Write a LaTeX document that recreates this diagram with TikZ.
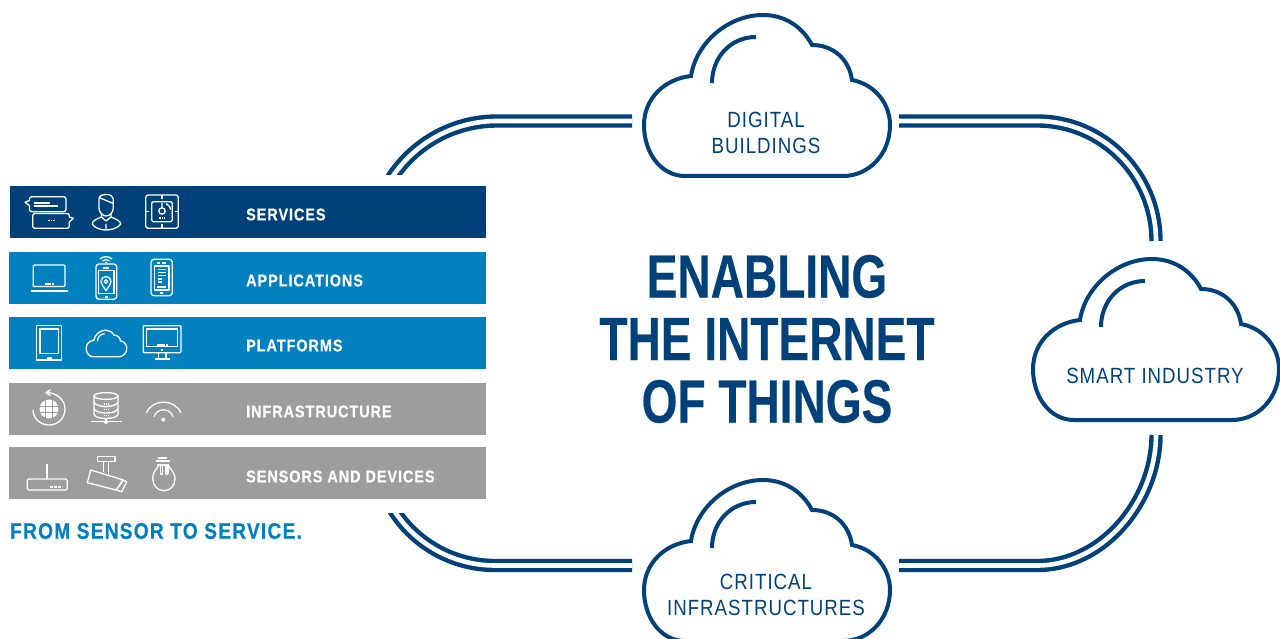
\documentclass[tikz,border=0pt]{standalone}
\usepackage{fontspec}
\setmainfont{Liberation Sans}
\newfontfamily\titlefont[FakeStretch=0.755,BoldFeatures={FakeBold=0.3}]{Liberation Sans}
\newfontfamily\cloudfont[FakeStretch=0.85,LetterSpace=4.5]{Liberation Sans}
\newfontfamily\barfont[FakeStretch=0.85,LetterSpace=5.5,BoldFeatures={FakeBold=0.4}]{Liberation Sans}
\definecolor{darkblue}{RGB}{0,65,122}
\definecolor{midblue}{RGB}{0,128,191}
\definecolor{midgray}{RGB}{157,157,156}
\tikzset{
  cloudshape/.pic={
    \draw[line join=miter] (-81,0) .. controls (-105,0) and (-122,-23) .. (-122,-51) .. controls (-122,-77) and (-102,-97) .. (-75,-100) .. controls (-70,-133) and (-38,-161) .. (-3,-161) .. controls (18,-161) and (36,-150) .. (46,-131) .. controls (67,-131) and (83,-117) .. (86,-96) .. controls (108,-92) and (124,-73) .. (124,-51) .. controls (124,-22) and (103,0) .. (77,0) -- cycle;
    \draw (-54,-93) .. controls (-54,-119) and (-35,-139) .. (-10,-139);
  },
  bigcloud/.style={draw=darkblue,line width=4pt},
  cloudlabel/.style={text=darkblue,font=\cloudfont\fontsize{22}{26}\selectfont,align=center,inner sep=0pt},
  barbox/.style={minimum height=52pt,inner sep=0pt,anchor=north west},
  barlabel/.style={text=white,font=\barfont\bfseries\fontsize{17}{18}\selectfont,anchor=west,inner sep=0pt},
  link/.style={draw=darkblue,line width=4.4pt,double=white,double distance=4.6pt},
  icon/.style={draw=white,line width=1.3pt,line join=round},
  icondash/.style={draw=white,line width=1.6pt},
  dotwhite/.style={fill=white,draw=none}
}
\begin{document}
\begin{tikzpicture}[x=1pt,y=-1pt]
\clip (0,0) rectangle (1280,639);
\fill[white] (0,0) rectangle (1280,639);

% Clouds
\pic[bigcloud] at (766,176) {cloudshape};
\pic[bigcloud] at (1155,420) {cloudshape};
\pic[bigcloud] at (766,641) {cloudshape};
\node[cloudlabel] (digital) at (766,133) {DIGITAL\\BUILDINGS};
\node[cloudlabel] (smart) at (1155,376) {SMART INDUSTRY};
\node[cloudlabel] (critical) at (766,595) {CRITICAL\\INFRASTRUCTURES};

% Free ends of the links
\coordinate (digitalwest) at (632,121);
\coordinate (digitaleast) at (899,121);
\coordinate (smartnorth) at (1156,241);
\coordinate (smartsouth) at (1156,435);
\coordinate (criticaleast) at (899,565.5);
\coordinate (criticalwest) at (632,565.5);
\coordinate (stacktop) at (388,184);
\coordinate (stackbottom) at (391,505.5);

% Links
\draw[link] (digitaleast) -- (1037,121) .. controls (1103,121) and (1156,175) .. (smartnorth);
\draw[link] (smartsouth) .. controls (1156,501) and (1103,565.5) .. (1037,565.5) -- (criticaleast);
\draw[link] (digitalwest) -- (497,121) .. controls (452,121) and (410.5,145) .. (stacktop);
\draw[link] (criticalwest) -- (495,565.5) .. controls (452,565.5) and (412.5,542.7) .. (stackbottom);
\fill[white] (370,175) rectangle (500,513);

% Title
\node[text=darkblue,font=\titlefont\bfseries\fontsize{61}{62.5}\selectfont,align=center,inner sep=0pt] (title) at (767,339) {ENABLING\\THE INTERNET\\OF THINGS};

% Bars
\node[barbox,fill=darkblue,minimum width=476pt] (servicesbar) at (10,186) {};
\node[barbox,fill=midblue,minimum width=477pt] (applicationsbar) at (9,252) {};
\node[barbox,fill=midblue,minimum width=477pt] (platformsbar) at (9,317) {};
\node[barbox,fill=midgray,minimum width=477pt] (infrastructurebar) at (9,383) {};
\node[barbox,fill=midgray,minimum width=477pt] (sensorsbar) at (9,447) {};
\node[barlabel] (serviceslabel) at (246,214.5) {SERVICES};
\node[barlabel] (applicationslabel) at (246,280.5) {APPLICATIONS};
\node[barlabel] (platformslabel) at (246,345.5) {PLATFORMS};
\node[barlabel] (infrastructurelabel) at (246,411.5) {INFRASTRUCTURE};
\node[barlabel] (sensorslabel) at (246,476.5) {SENSORS AND DEVICES};
\node[text=midblue,font=\barfont\bfseries\fontsize{22.5}{24}\selectfont,anchor=west,inner sep=0pt] (slogan) at (10,531) {FROM SENSOR TO SERVICE.};

% Chat bubbles
\draw[icon] (32,196.7) -- (63.5,196.7) .. controls (65,196.7) and (66,197.7) .. (66,199) -- (66,209.5) .. controls (66,210.7) and (65,211.7) .. (63.5,211.7) -- (32,211.7) .. controls (30.5,211.7) and (29.5,210.7) .. (29.5,209.5) -- (29.5,205.5) -- (25,202.3) -- (29.5,200.5) -- (29.5,199) .. controls (29.5,197.7) and (30.5,196.7) .. (32,196.7) -- cycle;
\draw[icon] (35,213.5) -- (67,213.5) .. controls (68.5,213.5) and (69.3,214.5) .. (69.3,215.5) -- (69.3,217) -- (73.5,218.3) -- (69.3,222) -- (69.3,226) .. controls (69.3,227.5) and (68.5,228.3) .. (67,228.3) -- (35,228.3) .. controls (33.5,228.3) and (32.7,227.5) .. (32.7,226) -- (32.7,216) .. controls (32.7,214.5) and (33.5,213.5) .. (35,213.5) -- cycle;
\draw[icondash] (34.3,203) -- (50,203) (34.3,205.8) -- (57.7,205.8);
\draw[icondash,dash pattern={on 1.6pt off 0.9pt}] (48.3,220.7) -- (54.5,220.7);
% Person
\draw[icon] (99,199) .. controls (99,196) and (102,194.5) .. (106,194.5) .. controls (110.5,194.5) and (113.3,196) .. (113.3,199) -- (113.3,208) .. controls (113.3,212) and (110,216) .. (106,216) .. controls (102.5,216) and (99,212) .. (99,208) -- cycle;
\draw[icon] (99,197.5) -- (113.3,203.5);
\draw[icon] (101.5,213) -- (101.5,217) .. controls (96,219) and (92.3,221) .. (92.3,224) .. controls (94,227.5) and (100,230) .. (106,230) .. controls (112,230) and (119,227.5) .. (120.7,224) .. controls (120.5,221) and (116,219) .. (111,217) -- (111,213);
\draw[icon] (101.5,217) -- (106,221) -- (111,217) (106,224) -- (106,229);
% Safe dial
\draw[icon,rounded corners=2.5pt] (145.7,195) rectangle (178.3,228.3);
\draw[icon,rounded corners=1.5pt] (151.7,201.7) rectangle (172.3,221.7);
\draw[icon] (162,211) circle[radius=3.2];
\draw[icon] (162,203) -- (162,207.8) (166,203.5) .. controls (168.5,204.5) and (170,207) .. (171,209.5);
\draw[icon] (162,195) -- (162,199) (162,224) -- (162,228.3) (145.7,211.7) -- (149,211.7) (175,211.7) -- (178.3,211.7);
\draw[icondash,dash pattern={on 1.6pt off 0.9pt}] (159,218) -- (165,218);

% Laptop
\draw[icon,rounded corners=1pt] (33.3,285.5) -- (33.3,265) -- (65,265) -- (65,286.5) -- (33.3,286.5) -- cycle;
\draw[icondash] (30.7,291) -- (67.7,291);
\draw[icondash,dash pattern={on 6pt off 1pt on 2pt off 9pt}] (45,284) -- (54,284);
% Phone with pin
\draw[icon,rounded corners=3pt] (96,264) rectangle (116.7,299.3);
\draw[icon] (98.7,270.7) rectangle (114,293.3);
\draw[icondash] (103,267.7) -- (109,267.7) (104.7,296.7) -- (107.7,296.7);
\draw[icon] (106,290.5) .. controls (103,286) and (101,284) .. (101,281.5) .. controls (101,278.5) and (103,276.5) .. (106,276.5) .. controls (109,276.5) and (111,278.5) .. (111,281.5) .. controls (111,284) and (109,286) .. (106,290.5) -- cycle;
\draw[icon] (106,281.5) circle[radius=1.8];
\draw[icon] (100,259) .. controls (103,256) and (109,256) .. (112,259) (102.5,261) .. controls (104.5,259) and (107.5,259) .. (109.5,261);
\fill[dotwhite] (106,262.5) circle[radius=1];
% Phone with list
\draw[icon,rounded corners=3pt] (151,259.3) rectangle (172.3,295.7);
\draw[icon] (154.3,266) rectangle (169,290);
\draw[icondash] (157,263) -- (159.5,263) (161.5,263) -- (166,263) (158,269.5) -- (166,269.5) (158,272.5) -- (166,272.5) (158,275.5) -- (166,275.5) (158,279) -- (162,279) (158,282) -- (162,282) (157,287) -- (166,287) (159.5,292.7) -- (163,292.7);

% Tablet
\draw[icon] (36.7,325.7) rectangle (61.7,360);
\draw[icon] (40,329) rectangle (58.3,353.3);
\draw[icondash] (46.7,358) -- (51.7,358);
% Small cloud
\pic[icon,scale=0.165] at (106.3,356.7) {cloudshape};
% Monitor
\draw[icon,rounded corners=1pt] (143.3,325.7) rectangle (181,352.7);
\draw[icon] (146.7,329) rectangle (177.7,346.7);
\draw[icon] (158.3,352.7) -- (158.3,359) (166,352.7) -- (166,359);
\draw[icondash] (155,359) -- (170,359) (156.7,345) -- (165,345) (166,345) -- (168.3,345) (160.7,350) -- (162.7,350);

% Globe with arrow
\fill[dotwhite] (49,409) circle[radius=9.5];
\draw[midgray,line width=0.8pt] (39.5,406) -- (58.5,406) (39.5,412) -- (58.5,412) (45.5,400) -- (45.5,418) (52.5,400) -- (52.5,418);
\draw[icon] (47,392.7) .. controls (57,392.7) and (65,400) .. (65,409) .. controls (65,418) and (58,425) .. (49,425) .. controls (40,425) and (33,418) .. (33,410);
\draw[icon] (50.5,389.7) -- (46,392.7) -- (50.5,395.7);
% Database
\draw[icon] (106,396) ellipse[x radius=12,y radius=3.4];
\draw[icon] (94,396) -- (94,414) .. controls (94,417) and (100,418.5) .. (106,418.5) .. controls (112,418.5) and (118,417) .. (118,414) -- (118,396);
\draw[icon] (94,402) .. controls (95,405) and (100,406.5) .. (106,406.5) .. controls (112,406.5) and (117,405) .. (118,402);
\draw[icon] (94,408.5) .. controls (95,411.5) and (100,413) .. (106,413) .. controls (112,413) and (117,411.5) .. (118,408.5);
\draw[icondash,dash pattern={on 1.2pt off 0.9pt}] (103.5,404) -- (109,404) (103.5,409.5) -- (109,409.5) (103.5,415.5) -- (109,415.5);
\draw[icon] (91,421.7) -- (121.7,421.7) (106,418.5) -- (106,421.7);
\fill[dotwhite] (106,422) circle[radius=2];
% Wifi
\fill[dotwhite] (163.3,419.7) circle[radius=2];
\draw[icon] (146.5,413) .. controls (152,398.5) and (175,398.5) .. (181,413);
\draw[icon] (154,416.7) .. controls (157,407.5) and (170,407.5) .. (173,416.7);

% Router
\draw[icon,rounded corners=1.5pt] (27.3,479) rectangle (67.3,490);
\draw[icon] (47,464) -- (47,479);
\draw[icondash,dash pattern={on 3pt off 1pt}] (50,486.7) -- (62,486.7);
% Camera
\draw[icon] (97.3,456.7) rectangle (115,461.7);
\draw[icon] (103.3,461.7) -- (103.3,472) (108.3,461.7) -- (108.3,474);
\draw[icon] (90.7,470) -- (123.3,480) -- (116,490) -- (87.3,482.7) -- cycle;
\draw[icon] (120.5,479.5) -- (126.7,481.7) -- (121.7,491.7) -- (114,489.3);
\draw[icondash] (118.5,487) -- (122,481.5);
% Bulb
\draw[icondash] (158.3,457.7) -- (166.7,457.7) (156,461) -- (170,461);
\draw[icon] (157.3,465) -- (169.3,465);
\draw[icon] (158,465) -- (158,467) .. controls (155,470) and (152.7,474) .. (152.7,478.5) .. controls (152.7,485.5) and (157.5,490.7) .. (164,490.7) .. controls (170.5,490.7) and (175,485.5) .. (175,478.5) .. controls (175,474) and (172,470) .. (169,467) -- (169,465);
\draw[icon] (160.5,466) -- (160.5,474) -- (162.5,474) -- (162.5,466) (166,466) -- (166,474) -- (168,474) -- (168,466);
\end{tikzpicture}
\end{document}
